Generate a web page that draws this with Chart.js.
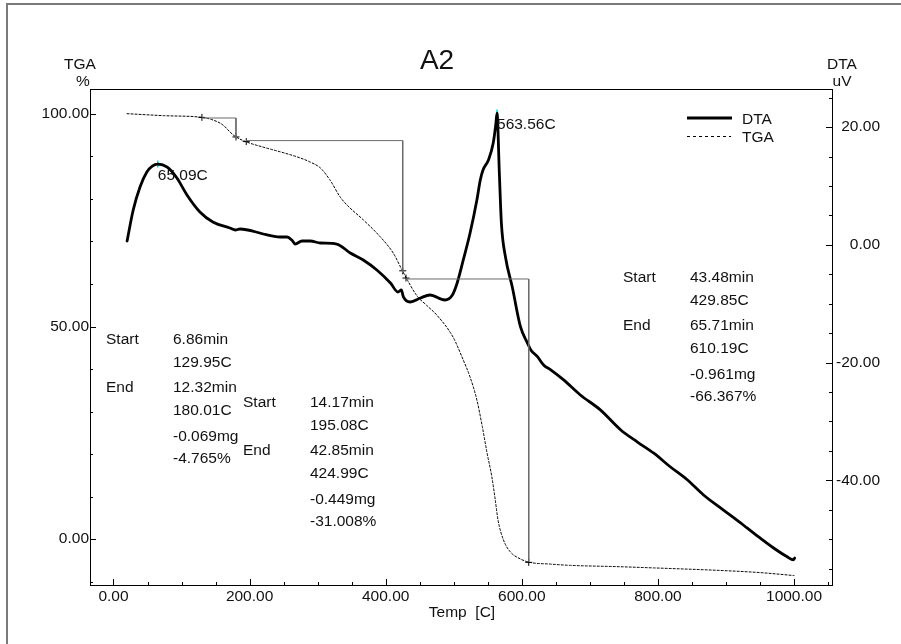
<!DOCTYPE html>
<html>
<head>
<meta charset="utf-8">
<title>A2 TGA / DTA</title>
<script src="https://cdn.jsdelivr.net/npm/chart.js@4.4.1/dist/chart.umd.min.js"></script>
<style>
  html, body { margin: 0; padding: 0; background: #fff; overflow: hidden; }
  #wrap { width: 901px; height: 644px; position: relative; }
  canvas { display: block; }
</style>
</head>
<body>
<div id="wrap"><canvas id="chart" width="901" height="644"></canvas></div>
<script>
// DTA signal (uV) against temperature (C)
const dtaTemp = [20, 29, 39, 49, 57, 65.09, 79, 93, 108, 127, 146, 171, 179, 186, 215, 220, 245, 255, 262, 267, 277, 289, 304, 328, 348, 367, 387, 407, 418, 423, 426, 436, 451, 465, 487, 498, 505, 514, 524, 534, 539, 543, 551, 558, 562, 563.56, 567, 570, 576, 586, 598, 608, 613, 623, 632, 642, 661, 686, 715, 745, 770, 794, 818, 843, 867, 892, 921, 931, 950, 970, 990, 999, 1001];
const dtaUV = [0.66, 5.93, 9.84, 12.39, 13.4, 13.73, 13.2, 11.4, 8.48, 5.59, 3.89, 2.87, 2.53, 2.7, 2.02, 1.85, 1.34, 1.34, 0.83, 0.15, 0.66, 0.66, 0.32, 0.15, -1.38, -2.56, -4.26, -6.47, -8.0, -7.66, -8.84, -9.7, -9.02, -8.51, -9.36, -8.51, -6.47, -2.56, 2.02, 7.63, 11.03, 12.73, 14.43, 17.3, 20.7, 22.4, 12.2, 3.7, -2.06, -7.16, -13.9, -16.6, -17.8, -19.0, -20.4, -21.2, -22.9, -25.5, -28.0, -31.4, -33.5, -35.4, -37.7, -39.9, -42.5, -44.7, -47.2, -48.1, -49.8, -51.5, -53.0, -53.5, -53.2];

// TGA mass (%) against temperature (C)
const tgaTemp = [20, 75, 130, 146, 161, 171, 179, 196, 220, 245, 270, 289, 304, 318, 333, 343, 367, 392, 411, 424, 432, 446, 460, 475, 499, 514, 524, 534, 542, 549, 556, 561, 565, 573, 583, 598, 612, 642, 671, 740, 794, 892, 950, 1000];
const tgaPct = [100.07, 99.6, 99.2, 98.6, 97.4, 95.8, 94.7, 93.4, 92.2, 91.1, 89.9, 88.7, 87.3, 84.5, 80.5, 78.6, 75.1, 71.1, 67.3, 63.3, 60.9, 57.2, 55.0, 52.7, 47.5, 42.1, 38.1, 32.7, 26.4, 20.2, 14.6, 9.2, 4.5, -0.2, -3.0, -4.7, -5.5, -5.9, -6.2, -6.5, -6.8, -7.4, -7.9, -8.6];

// Mass-loss steps
const stepStartTemp = [129.95, 195.08, 429.85];
const stepEndTemp = [180.01, 424.99, 610.19];
const stepStartMin = [6.86, 14.17, 43.48];
const stepEndMin = [12.32, 42.85, 65.71];
const stepLevel = [99.06, 93.74, 61.18];
const stepLossPct = [4.765, 31.008, 66.367];
const stepLossMg = [-0.069, -0.449, -0.961];
const stepMarkTemp = [129.95, 180.01, 195.08, 424.99, 429.85, 610.19];
const stepMarkPct = [99.2, 94.6, 93.5, 63.1, 61.4, -5.5];

// DTA peaks
const peakTemp = [65.09, 563.56];
const peakUV = [13.73, 22.4];

// Axis ticks
const xTicks = [0, 200, 400, 600, 800, 1000];
const xMinor = [50, 100, 150, 250, 300, 350, 450, 500, 550, 650, 700, 750, 850, 900, 950, 1050];
const tgaTicks = [0, 50, 100];
const tgaMinor = [-10, 10, 20, 30, 40, 60, 70, 80, 90];
const dtaTicks = [-40, -20, 0, 20];
const dtaMinor = [-55, -50, -45, -35, -30, -25, -15, -10, -5, 5, 10, 15, 25];

const FONT = '"Liberation Sans", Arial, Helvetica, sans-serif';
const TXT = '#111';
const STEP_GRAY = '#6a6a6a';

function pts(xs, ys) { return xs.map((x, i) => ({ x: x, y: ys[i] })); }

const stepSets = stepStartTemp.map((t0, i) => ({
  type: 'line',
  data: [
    { x: t0, y: stepLevel[i] },
    { x: stepEndTemp[i], y: stepLevel[i] },
    { x: stepEndTemp[i], y: stepLevel[i] - stepLossPct[i] }
  ],
  yAxisID: 'yT',
  borderColor: STEP_GRAY,
  borderWidth: 1,
  pointRadius: 0,
  tension: 0,
  fill: false
}));

const decor = {
  id: 'decor',
  afterDraw(chart) {
    const c = chart.ctx;
    const a = chart.chartArea;
    const sx = chart.scales.x, sT = chart.scales.yT, sD = chart.scales.yD;
    c.save();

    // outer frame
    c.strokeStyle = '#7a7a7a';
    c.lineWidth = 2;
    c.strokeRect(7, 4, 1000, 1000);

    // plot border
    c.strokeStyle = '#000';
    c.lineWidth = 1;
    c.strokeRect(Math.round(a.left) + 0.5, Math.round(a.top) + 0.5,
                 Math.round(a.right - a.left), Math.round(a.bottom - a.top));

    // inward tick marks
    c.beginPath();
    const tick = (scale, vals, len, axis) => {
      vals.forEach(v => {
        const p = Math.round(scale.getPixelForValue(v)) + 0.5;
        if (axis === 'x') { c.moveTo(p, a.bottom); c.lineTo(p, a.bottom - len); }
        else if (axis === 'l') { c.moveTo(a.left, p); c.lineTo(a.left + len, p); }
        else { c.moveTo(a.right, p); c.lineTo(a.right - len, p); }
      });
    };
    tick(sx, xTicks, 6, 'x'); tick(sx, xMinor, 3, 'x');
    tick(sT, tgaTicks, 6, 'l'); tick(sT, tgaMinor, 3, 'l');
    tick(sD, dtaTicks, 6, 'r'); tick(sD, dtaMinor, 3, 'r');
    c.stroke();

    c.fillStyle = TXT;
    c.textBaseline = 'alphabetic';

    // title
    c.font = '28px ' + FONT;
    c.textAlign = 'center';
    c.fillText('A2', 437, 69);

    // axis captions
    c.font = '15.5px ' + FONT;
    c.fillText('TGA', 80, 69);
    c.fillText('%', 83, 86);
    c.fillText('DTA', 842, 69);
    c.fillText('uV', 842, 86);
    c.fillText('Temp  [C]', 462, 617);

    // legend
    c.textAlign = 'left';
    c.fillText('DTA', 742, 123.5);
    c.fillText('TGA', 742, 141.5);
    c.lineWidth = 2.8;
    c.beginPath(); c.moveTo(687, 118); c.lineTo(732, 118); c.stroke();
    c.lineWidth = 1;
    c.setLineDash([3, 3]);
    c.beginPath(); c.moveTo(687, 136.5); c.lineTo(731, 136.5); c.stroke();
    c.setLineDash([]);

    // peak labels
    peakTemp.forEach((t, i) => {
      const px = sx.getPixelForValue(t), py = sD.getPixelForValue(peakUV[i]);
      c.fillText(t.toFixed(2) + 'C', px, py + 16);
    });

    // step annotation blocks
    const blocks = [{ x: 106, y: 338 }, { x: 243, y: 401 }, { x: 623, y: 276 }];
    const rows = [0, 23, 48, 71, 97, 119];
    blocks.forEach((b, i) => {
      const vx = b.x + 67, base = b.y + 5.5;
      c.fillText('Start', b.x, base + rows[0]);
      c.fillText(stepStartMin[i].toFixed(2) + 'min', vx, base + rows[0]);
      c.fillText(stepStartTemp[i].toFixed(2) + 'C', vx, base + rows[1]);
      c.fillText('End', b.x, base + rows[2]);
      c.fillText(stepEndMin[i].toFixed(2) + 'min', vx, base + rows[2]);
      c.fillText(stepEndTemp[i].toFixed(2) + 'C', vx, base + rows[3]);
      c.fillText(stepLossMg[i].toFixed(3) + 'mg', vx, base + rows[4]);
      c.fillText('-' + stepLossPct[i].toFixed(3) + '%', vx, base + rows[5]);
    });

    c.restore();
  }
};

const tickFont = { family: FONT, size: 15.5 };

new Chart(document.getElementById('chart'), {
  type: 'line',
  data: {
    datasets: [
      ...stepSets,
      {
        label: 'TGA',
        data: pts(tgaTemp, tgaPct),
        yAxisID: 'yT',
        borderColor: '#000',
        borderWidth: 1,
        borderDash: [2, 2],
        pointRadius: 0,
        cubicInterpolationMode: 'monotone',
        fill: false
      },
      {
        label: 'DTA',
        data: pts(dtaTemp, dtaUV),
        yAxisID: 'yD',
        borderColor: '#000',
        borderWidth: 2.8,
        pointRadius: 0,
        cubicInterpolationMode: 'monotone',
        fill: false
      },
      {
        type: 'scatter',
        data: pts(stepMarkTemp, stepMarkPct),
        yAxisID: 'yT',
        pointStyle: 'cross',
        pointRadius: 3.5,
        borderColor: '#000',
        borderWidth: 1,
        showLine: false
      },
      {
        type: 'scatter',
        data: pts(peakTemp, peakUV),
        yAxisID: 'yD',
        pointStyle: 'line',
        rotation: 90,
        pointRadius: 3.5,
        borderColor: '#00d8d8',
        borderWidth: 1.5,
        showLine: false
      }
    ]
  },
  options: {
    responsive: false,
    animation: false,
    devicePixelRatio: 1,
    layout: { padding: { top: 89, right: 21, left: 0, bottom: 0 } },
    plugins: { legend: { display: false }, tooltip: { enabled: false } },
    elements: { line: { borderCapStyle: 'round', borderJoinStyle: 'round' } },
    scales: {
      x: {
        type: 'linear',
        position: 'bottom',
        min: -34.5,
        max: 1055.8,
        afterBuildTicks: s => { s.ticks = xTicks.map(v => ({ value: v })); },
        afterFit: s => { s.height = 59; },
        grid: { display: false, drawTicks: false },
        border: { display: false },
        ticks: { callback: v => v.toFixed(2), font: tickFont, color: TXT, padding: 2, maxRotation: 0, autoSkip: false }
      },
      yT: {
        type: 'linear',
        position: 'left',
        min: -10.82,
        max: 105.88,
        afterBuildTicks: s => { s.ticks = tgaTicks.map(v => ({ value: v })); },
        afterFit: s => { s.width = 90; },
        grid: { display: false, drawTicks: false },
        border: { display: false },
        ticks: { callback: v => v.toFixed(2), font: tickFont, color: TXT, padding: 1, autoSkip: false }
      },
      yD: {
        type: 'linear',
        position: 'right',
        min: -57.79,
        max: 26.49,
        afterBuildTicks: s => { s.ticks = dtaTicks.map(v => ({ value: v })); },
        afterFit: s => { s.width = 48; },
        grid: { display: false, drawTicks: false },
        border: { display: false },
        ticks: { callback: v => v.toFixed(2), font: tickFont, color: TXT, padding: 0, crossAlign: 'far', autoSkip: false }
      }
    }
  },
  plugins: [decor]
});
</script>
</body>
</html>
